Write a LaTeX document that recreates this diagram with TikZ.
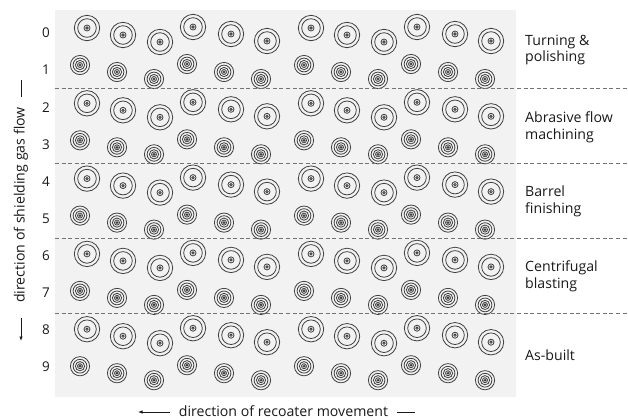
\documentclass[tikz,border=0pt]{standalone}
\usepackage{fontspec}
\setmainfont{Open Sans}
\usetikzlibrary{arrows.meta}
\begin{document}
\begin{tikzpicture}[x=1bp,y=-1bp,
  ring/.style={draw=black!75,line width=0.8bp},
  sep/.style={draw=black!55,line width=0.9bp,dash pattern=on 4bp off 2.6bp},
  lbl/.style={font=\fontsize{14.2}{17}\selectfont,text=black!90,inner sep=0pt},
  rowlbl/.style={font=\fontsize{13.5}{15}\selectfont,text=black!90,inner sep=0pt},
  dirline/.style={draw=black!90,line width=0.8bp},
  dirarrow/.style={dirline,-{Latex[length=4.5bp,width=3.5bp]}}]
\useasboundingbox (0,0) rectangle (628,419);
\fill[black!5] (55,10) rectangle (516,397);
% circles
\foreach \g in {0,...,4} {
  \pgfmathsetmacro\gy{75.3*\g}
  \foreach \r in {0,224} {
    \foreach \x/\y in {87/28,123/35,160/42,193/27,231/34,267/41} {
      \draw[ring,shift={(\x+\r,\y+\gy)}] (0,0) circle (12.7bp) (0,0) circle (9.3bp)
        (0,0) circle (3bp) (0,0) circle (1.2bp);
    }
    \foreach \x/\y in {80/65,117/72,154/79,187/64,224/72,261/79} {
      \draw[ring,shift={(\x+\r,\y+\gy)}] (0,0) circle (9.6bp) (0,0) circle (6.9bp)
        (0,0) circle (4.6bp) (0,0) circle (2.5bp) (0,0) circle (0.9bp);
    }
  }
}
% separators
\foreach \k in {0,...,3} {
  \draw[sep] (55,{88+75.3*\k}) -- (628,{88+75.3*\k});
}
% row labels
\foreach \n in {0,...,9} {
  \node[rowlbl] (r\n) at (46,{33+37.1*\n}) {\n};
}
% group labels
\node[lbl,anchor=west,align=left] (g0) at (525,50) {Turning \&\\polishing};
\node[lbl,anchor=west,align=left] (g1) at (525,127) {Abrasive flow\\machining};
\node[lbl,anchor=west,align=left] (g2) at (525,201) {Barrel\\finishing};
\node[lbl,anchor=west,align=left] (g3) at (525,276.5) {Centrifugal\\blasting};
\node[lbl,anchor=west,align=left] (g4) at (525,355) {As-built};
% shielding gas flow
\node[lbl,rotate=90] (flow) at (21,205) {direction of shielding gas flow};
\coordinate (fa) at (21,318);
\coordinate (fb) at (21,341);
\coordinate (fc) at (21,97);
\coordinate (fd) at (21,80);
\draw[dirarrow] (fa) -- (fb);
\draw[dirline] (fc) -- (fd);
% recoater movement
\node[lbl] (recoat) at (283.5,411) {direction of recoater movement};
\coordinate (ra) at (170,412);
\coordinate (rb) at (138,412);
\coordinate (rc) at (397,412);
\coordinate (rd) at (415,412);
\draw[dirarrow] (ra) -- (rb);
\draw[dirline] (rc) -- (rd);
\end{tikzpicture}
\end{document}
